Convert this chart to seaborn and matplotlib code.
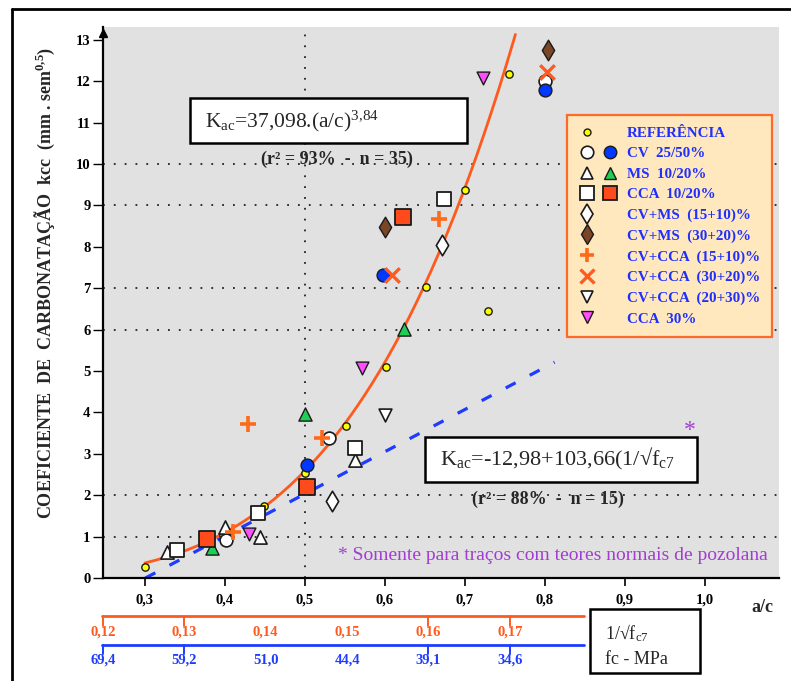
import numpy as np
import pandas as pd
import matplotlib
matplotlib.use("Agg")
import matplotlib.pyplot as plt
import seaborn as sns
from matplotlib.lines import Line2D
from matplotlib.patches import Rectangle
from matplotlib.legend_handler import HandlerTuple
import matplotlib.transforms as mtransforms

# ---------------------------------------------------------------- data
ref_ac = [0.300, 0.398, 0.449, 0.500, 0.551, 0.601, 0.651, 0.700, 0.729, 0.755]
ref_k = [0.27, 1.05, 1.73, 2.54, 3.66, 5.10, 7.02, 9.37, 6.44, 12.17]

cv25_ac = [0.401, 0.530, 0.800]
cv25_k = [0.92, 3.37, 12.00]
cv50_ac = [0.5025, 0.598, 0.800]
cv50_k = [2.72, 7.32, 11.80]

ms10_ac = [0.328, 0.400, 0.444, 0.563]
ms10_k = [0.62, 1.22, 0.98, 2.85]
ms20_ac = [0.384, 0.500, 0.624]
ms20_k = [0.73, 3.95, 6.02]

cca10_ac = [0.340, 0.441, 0.5625, 0.674]
cca10_k = [0.68, 1.56, 3.13, 9.15]
cca20_ac = [0.378, 0.5025, 0.6225]
cca20_k = [0.95, 2.20, 8.73]

cvms_15_10_ac = [0.534, 0.671]
cvms_15_10_k = [1.85, 8.05]
cvms_30_20_ac = [0.600, 0.804]
cvms_30_20_k = [8.49, 12.76]

cvcca_15_10_ac = [0.410, 0.429, 0.521, 0.667]
cvcca_15_10_k = [1.12, 3.71, 3.39, 8.66]
cvcca_30_20_ac = [0.609, 0.8025]
cvcca_30_20_k = [7.32, 12.22]
cvcca_20_30_ac = [0.600]
cvcca_20_30_k = [3.93]

cca30_ac = [0.430, 0.571, 0.7225]
cca30_k = [1.07, 5.07, 12.08]

# fitted laws
power_coef, power_exp = 37.098, 3.84          # Kac = 37,098.(a/c)^3,84
power_ac_range = (0.30, 0.763)
lin_intercept, lin_slope = -12.98, 103.66     # Kac = -12,98 + 103,66 (1/sqrt fc7)
lin_v_end = 0.1755

# secondary scale (1/sqrt fc7 and fc)
inv_ticks = [0.12, 0.13, 0.14, 0.15, 0.16, 0.17]
inv_labels = ["0,12", "0,13", "0,14", "0,15", "0,16", "0,17"]
fc_labels = ["69,4", "59,2", "51,0", "44,4", "39,1", "34,6"]
inv_marked = [0.12, 0.13, 0.16, 0.17]

x_ticks = [0.3, 0.4, 0.5, 0.6, 0.7, 0.8, 0.9, 1.0]
x_tick_labels = ["0,3", "0,4", "0,5", "0,6", "0,7", "0,8", "0,9", "1,0"]
y_ticks = list(range(0, 14))

legend_labels = ["REFERÊNCIA", "CV  25/50%", "MS  10/20%", "CCA  10/20%",
                 "CV+MS  (15+10)%", "CV+MS  (30+20)%", "CV+CCA  (15+10)%",
                 "CV+CCA  (30+20)%", "CV+CCA  (20+30)%", "CCA  30%"]

series = {
    "REF": (ref_ac, ref_k),
    "CV25": (cv25_ac, cv25_k), "CV50": (cv50_ac, cv50_k),
    "MS10": (ms10_ac, ms10_k), "MS20": (ms20_ac, ms20_k),
    "CCA10": (cca10_ac, cca10_k), "CCA20": (cca20_ac, cca20_k),
    "CVMS1510": (cvms_15_10_ac, cvms_15_10_k), "CVMS3020": (cvms_30_20_ac, cvms_30_20_k),
    "CVCCA1510": (cvcca_15_10_ac, cvcca_15_10_k), "CVCCA3020": (cvcca_30_20_ac, cvcca_30_20_k),
    "CVCCA2030": (cvcca_20_30_ac, cvcca_20_30_k),
    "CCA30": (cca30_ac, cca30_k),
}
df = pd.concat([pd.DataFrame({"ac": a, "kcc": k, "grupo": g}) for g, (a, k) in series.items()],
               ignore_index=True)

# ---------------------------------------------------------------- styles
BLUE = "#0038FF"
ORANGE = "#FF5A1E"
PURPLE = "#A33CD2"
styles = {
    "REF": dict(marker="o", fc="#FFFF00", ec="k", s=28, lw=1.0),
    "CV25": dict(marker="o", fc="white", ec="k", s=85, lw=1.2),
    "CV50": dict(marker="o", fc=BLUE, ec="k", s=85, lw=1.0),
    "MS10": dict(marker="^", fc="white", ec="k", s=90, lw=1.2),
    "MS20": dict(marker="^", fc="#1FCF55", ec="k", s=90, lw=1.0),
    "CCA10": dict(marker="s", fc="white", ec="k", s=115, lw=1.3),
    "CCA20": dict(marker="s", fc="#FF4A1C", ec="k", s=120, lw=1.3),
    "CVMS1510": dict(marker="d", fc="white", ec="k", s=110, lw=1.2),
    "CVMS3020": dict(marker="d", fc="#7A4626", ec="k", s=110, lw=1.0),
    "CVCCA1510": dict(marker="+", fc="#FF6A1A", ec=None, s=120, lw=2.6),
    "CVCCA3020": dict(marker="x", fc="#FF5A1F", ec=None, s=110, lw=2.4),
    "CVCCA2030": dict(marker="v", fc="white", ec="k", s=85, lw=1.2),
    "CCA30": dict(marker="v", fc="#FF4DFF", ec="k", s=85, lw=1.0),
}

sns.set_theme(style="white")
plt.rcParams["font.family"] = ["Liberation Serif", "DejaVu Serif"]
plt.rcParams["mathtext.fontset"] = "custom"
plt.rcParams["mathtext.rm"] = "Liberation Serif"
plt.rcParams["mathtext.it"] = "Liberation Serif:italic"
plt.rcParams["mathtext.bf"] = "Liberation Serif:bold"

W, H = 791, 681
fig = plt.figure(figsize=(W / 100, H / 100), dpi=100)
fig.patch.set_facecolor("white")


def fx(px):
    return px / W


def fy(py):
    return 1 - py / H


ax = fig.add_axes([fx(103), fy(578), fx(779) - fx(103), fy(27) - fy(578)])
ax.set_facecolor("#E1E1E1")
ax.set_xlim(0.2475, 1.0925)
ax.set_ylim(0, 13.31)

# dotted reference lines
for yv in [1, 2, 6, 7, 9, 10]:
    ax.axhline(yv, color="#222222", lw=1.3, ls=(0, (1, 5)), zorder=1)
ax.axvline(0.5, color="#222222", lw=1.3, ls=(0, (1, 5)), zorder=1)

# power law fit over all mixes
ac_fit = np.linspace(*power_ac_range, 200)
sns.lineplot(x=ac_fit, y=power_coef * ac_fit ** power_exp, ax=ax, color=ORANGE,
             lw=2.0, zorder=2, sort=False)

# linear fit against 1/sqrt(fc7), shown along the a/c axis through the lower scale
sec_ac0, sec_gain = 0.2475, 10.17


def v_to_ac(v):
    return sec_ac0 + (np.asarray(v) - inv_ticks[0]) * sec_gain


v_fit = np.linspace(-lin_intercept / lin_slope, lin_v_end, 100)
sns.lineplot(x=v_to_ac(v_fit), y=lin_intercept + lin_slope * v_fit, ax=ax, color="#1E3CFF",
             lw=2.3, ls=(0, (3.5, 5)), zorder=2, sort=False)

# experimental points
for g in series:
    st = styles[g]
    sub = df[df["grupo"] == g]
    kw = dict(marker=st["marker"], s=st["s"], linewidth=st["lw"], zorder=3, legend=False, ax=ax)
    if st["ec"] is None:
        sns.scatterplot(data=sub, x="ac", y="kcc", color=st["fc"], **kw)
    else:
        sns.scatterplot(data=sub, x="ac", y="kcc", color=st["fc"], edgecolor=st["ec"], **kw)

ax.set_xlabel("")
ax.set_ylabel("")

# axes
for side in ["top", "right"]:
    ax.spines[side].set_visible(False)
for side in ["left", "bottom"]:
    ax.spines[side].set_color("black")
    ax.spines[side].set_linewidth(1.6)
ax.set_xticks(x_ticks)
ax.set_xticklabels(x_tick_labels, fontweight="bold", fontsize=10.5)
ax.set_yticks(y_ticks)
ax.set_yticklabels([str(v) for v in y_ticks], fontweight="bold", fontsize=10.5)
ax.tick_params(axis="x", direction="out", length=6, width=1.2, pad=5, colors="black", bottom=True)
ax.tick_params(axis="y", direction="out", length=7.5, width=1.0, pad=1.5, colors="black", left=True)
ax.plot([0], [0.99], marker="^", ms=6, color="black", transform=ax.transAxes, clip_on=False, zorder=5)

# legend
def mk(style_key, ms):
    st = styles[style_key]
    if st["ec"] is None:
        return Line2D([], [], ls="none", marker=st["marker"], color=st["fc"], ms=ms, mew=st["lw"])
    return Line2D([], [], ls="none", marker=st["marker"], markerfacecolor=st["fc"],
                  markeredgecolor=st["ec"], ms=ms, mew=st["lw"])


blank = Line2D([], [], ls="none")
handles = [
    (mk("REF", 5), blank),
    (mk("CV25", 9), mk("CV50", 9)),
    (mk("MS10", 9), mk("MS20", 9)),
    (mk("CCA10", 10), mk("CCA20", 10)),
    (mk("CVMS1510", 10), blank),
    (mk("CVMS3020", 10), blank),
    (mk("CVCCA1510", 10), blank),
    (mk("CVCCA3020", 10), blank),
    (mk("CVCCA2030", 9), blank),
    (mk("CCA30", 9), blank),
]
leg = ax.legend(handles, legend_labels, handler_map={tuple: HandlerTuple(ndivide=None, pad=0.4)},
                loc="upper left", bbox_to_anchor=(fx(567), fy(115)), bbox_transform=fig.transFigure,
                frameon=True, fancybox=False, facecolor="#FFE8BE", edgecolor="#FF6A2A", framealpha=1,
                prop={"weight": "bold", "size": 10.8}, labelcolor="#1F2FFF", borderpad=0.75,
                labelspacing=0.47, handlelength=2.7, handletextpad=0.55, borderaxespad=0)
leg.get_frame().set_linewidth(1.6)
leg.set_zorder(6)

# equation boxes
def box(x0, y0, x1, y1):
    fig.add_artist(Rectangle((fx(x0), fy(y1)), fx(x1) - fx(x0), fy(y0) - fy(y1),
                             transform=fig.transFigure, facecolor="white", edgecolor="black",
                             lw=1.8, zorder=7))


box(190, 98, 467, 143)
fig.text(fx(205), fy(121), r"K$_{\mathrm{ac}}$=37,098.(a/c)$^{\mathrm{3{,}84}}$", fontsize=15.5,
         ha="left", va="center", zorder=8)
fig.text(fx(337), fy(159), "(r² = 93%  -  n = 35)", fontsize=13, fontweight="bold",
         ha="center", va="center", zorder=8)

box(425, 437, 697, 482)
fig.text(fx(440), fy(459), r"K$_{\mathrm{ac}}$=-12,98+103,66(1/√f$_{\mathrm{c7}}$", fontsize=16,
         ha="left", va="center", zorder=8)
fig.text(fx(548), fy(499), "(r² = 88%  -  n = 15)", fontsize=13, fontweight="bold",
         ha="center", va="center", zorder=8)

box(590, 609, 700, 673)
fig.text(fx(605), fy(633), r"1/√f$_{\mathrm{c7}}$", fontsize=13, ha="left", va="center", zorder=8)
fig.text(fx(605), fy(659), "fc - MPa", fontsize=13, ha="left", va="center", zorder=8)

# note on the pozzolan content
fig.text(fx(338), fy(556), "* Somente para traços com teores normais de pozolana", color=PURPLE,
         fontsize=14, ha="left", va="center")
fig.text(fx(690), fy(430), "*", color=PURPLE, fontsize=17, ha="center", va="center")

# axis titles
fig.text(fx(762), fy(607), "a/c", fontsize=13, fontweight="bold", ha="center", va="center")
fig.text(fx(45), fy(283), r"COEFICIENTE  DE  CARBONATAÇÃO  kcc  (mm . sem$^{\mathbf{0{,}5}}$)",
         rotation=90, fontsize=13, fontweight="bold", ha="center", va="center")

# lower scales: 1/sqrt(fc7) and fc
trans = mtransforms.blended_transform_factory(ax.transData, fig.transFigure)
scale_start, scale_end = 0.246, 0.849
for line_py, tick_py, label_py, labels, col in [
    (616, 626, 632, inv_labels, "#FF5A1E"),
    (645, 654, 660, fc_labels, "#1E3CFF"),
]:
    fig.add_artist(Line2D([scale_start, scale_end], [fy(line_py)] * 2, transform=trans,
                          color=col, lw=2.0))
    for v in inv_marked:
        fig.add_artist(Line2D([v_to_ac(v)] * 2, [fy(line_py), fy(tick_py)], transform=trans,
                              color=col, lw=1.4))
    for v, lab in zip(inv_ticks, labels):
        fig.text(float(v_to_ac(v)), fy(label_py), lab, transform=trans, color=col,
                 fontsize=10.5, fontweight="bold", ha="center", va="center")

# outer frame
fig.add_artist(Line2D([fx(12), fx(12)], [0, fy(9)], transform=fig.transFigure, color="black", lw=2))
fig.add_artist(Line2D([fx(12), 1], [fy(9), fy(9)], transform=fig.transFigure, color="black", lw=2))

fig.savefig("out.png", dpi=100)
